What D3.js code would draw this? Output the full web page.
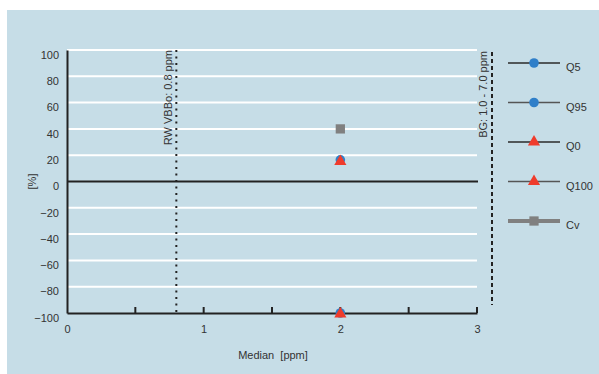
<!DOCTYPE html>
<html>
<head>
<meta charset="utf-8">
<script src="https://cdn.jsdelivr.net/npm/d3@7"></script>
<style>
  html, body { margin: 0; padding: 0; background: #ffffff; }
  svg { display: block; font-family: "Liberation Sans", Arial, sans-serif; }
</style>
</head>
<body>
<svg id="chart" width="599" height="374"></svg>
<script>
// Series values (x = median in ppm, y = deviation in %)
const seriesNames = ["Q5", "Q95", "Q0", "Q100", "Cv"];
const q5   = [{ x: 2, y: -100 }];
const q95  = [{ x: 2, y: 16.5 }];
const q0   = [{ x: 2, y: -100 }];
const q100 = [{ x: 2, y: 16 }];
const cv   = [{ x: 2, y: 40 }];

// Reference lines
const rwValue = 0.8;
const rwLabel = "RW VBBo: 0.8 ppm";
const bgLabel = "BG: 1.0 - 7.0 ppm";

// Tick labels
const yTicks = [100, 80, 60, 40, 20, 0, -20, -40, -60, -80, -100];
const xTicks = [0, 1, 2, 3];
const xMinorTicks = [0.5, 1, 1.5, 2, 2.5, 3];

const svg = d3.select("#chart");
const W = 599, H = 374;

// Background panel
svg.append("rect").attr("x", 7).attr("y", 10).attr("width", W - 7).attr("height", H - 10)
  .attr("fill", "#c6dde7");

const x = d3.scaleLinear().domain([0, 3]).range([67, 477]);
const y = d3.scaleLinear().domain([-100, 100]).range([313, 50]);

const ink = "#222222";
const textCol = "#333333";

// Horizontal gridlines
svg.append("g").selectAll("line").data(yTicks.filter(d => d !== 0 && d !== -100)).join("line")
  .attr("x1", x(0)).attr("x2", x(3))
  .attr("y1", d => y(d)).attr("y2", d => y(d))
  .attr("stroke", "#ffffff").attr("stroke-width", 2);

// Zero line
svg.append("line").attr("x1", x(0)).attr("x2", x(3) + 1)
  .attr("y1", y(0)).attr("y2", y(0))
  .attr("stroke", ink).attr("stroke-width", 2);

// Y axis
const yAxis = d3.axisLeft(y).tickValues(yTicks).tickSize(0).tickPadding(8);
const gy = svg.append("g").attr("transform", `translate(${x(0)},0)`).call(yAxis);
gy.select(".domain").attr("stroke", ink).attr("stroke-width", 2);
gy.selectAll("text").attr("fill", textCol).attr("font-size", 11)
  .attr("font-family", "Liberation Sans, Arial, sans-serif").attr("dy", "0.75em");

// X axis
const xAxis = d3.axisBottom(x).tickValues(xTicks).tickSize(0).tickPadding(12).tickFormat(d3.format("d"));
const gx = svg.append("g").attr("transform", `translate(0,${y(-100)})`).call(xAxis);
gx.select(".domain").attr("stroke", ink).attr("stroke-width", 2);
gx.selectAll("text").attr("fill", textCol).attr("font-size", 11)
  .attr("font-family", "Liberation Sans, Arial, sans-serif");

// Small upward ticks on the x axis
svg.append("g").selectAll("line").data(xMinorTicks).join("line")
  .attr("x1", d => x(d)).attr("x2", d => x(d))
  .attr("y1", y(-100)).attr("y2", y(-100) - 6)
  .attr("stroke", ink).attr("stroke-width", 2);

// RW reference line (dotted)
svg.append("line").attr("x1", x(rwValue)).attr("x2", x(rwValue))
  .attr("y1", y(100)).attr("y2", y(-100))
  .attr("stroke", ink).attr("stroke-width", 2).attr("stroke-dasharray", "2,4.5");
svg.append("text").attr("transform", `translate(${x(rwValue) - 4},${y(100)}) rotate(-90)`)
  .attr("text-anchor", "end").attr("font-size", 11).attr("fill", textCol)
  .text(rwLabel);

// BG range marker (dashed), just right of the plot
const bgX = x(3) + 15;
svg.append("line").attr("x1", bgX).attr("x2", bgX)
  .attr("y1", y(100) + 2).attr("y2", y(-100) - 8)
  .attr("stroke", ink).attr("stroke-width", 2).attr("stroke-dasharray", "4,3");
svg.append("text").attr("transform", `translate(${bgX - 5},${y(100) + 1}) rotate(-90)`)
  .attr("text-anchor", "end").attr("font-size", 11).attr("fill", textCol)
  .text(bgLabel);

// Axis titles
svg.append("text").attr("transform", `translate(36,${y(0)}) rotate(-90)`)
  .attr("text-anchor", "middle").attr("font-size", 11).attr("fill", textCol).text("[%]");
svg.append("text").attr("x", 273).attr("y", 359)
  .attr("text-anchor", "middle").attr("font-size", 11).attr("fill", textCol)
  .attr("xml:space", "preserve").style("white-space", "pre").text("Median  [ppm]");

// Marker styles
const blue = "#2f7fc9", red = "#ef3b2c", gray = "#808080";
const styles = {
  Q5:   { shape: d3.symbolCircle,   size: 72, fill: blue, line: "#2a2a2a", lw: 1.5 },
  Q95:  { shape: d3.symbolCircle,   size: 72, fill: blue, line: "#555555", lw: 1.5 },
  Q0:   { shape: d3.symbolTriangle, size: 64, fill: red,  line: "#2a2a2a", lw: 1.5 },
  Q100: { shape: d3.symbolTriangle, size: 64, fill: red,  line: "#555555", lw: 1.5 },
  Cv:   { shape: d3.symbolSquare,   size: 86, fill: gray, line: gray,      lw: 4 }
};
const dataBy = { Q5: q5, Q95: q95, Q0: q0, Q100: q100, Cv: cv };

// Data points
seriesNames.forEach(name => {
  const s = styles[name];
  svg.append("g").selectAll("path").data(dataBy[name]).join("path")
    .attr("transform", d => `translate(${x(d.x)},${y(d.y) + (s.shape === d3.symbolTriangle ? 1 : 0)})`)
    .attr("d", d3.symbol().type(s.shape).size(s.size))
    .attr("fill", s.fill);
});

// Legend
const legendY = d3.scalePoint().domain(seriesNames).range([63, 221]);
const lg = svg.append("g");
seriesNames.forEach(name => {
  const s = styles[name];
  const ly = legendY(name);
  lg.append("line").attr("x1", 508).attr("x2", 560).attr("y1", ly).attr("y2", ly)
    .attr("stroke", s.line).attr("stroke-width", s.lw);
  lg.append("path").attr("transform", `translate(534,${ly})`)
    .attr("d", d3.symbol().type(s.shape).size(s.size)).attr("fill", s.fill);
  lg.append("text").attr("x", 566).attr("y", ly + 8).attr("font-size", 11)
    .attr("fill", textCol).text(name);
});
</script>
</body>
</html>
